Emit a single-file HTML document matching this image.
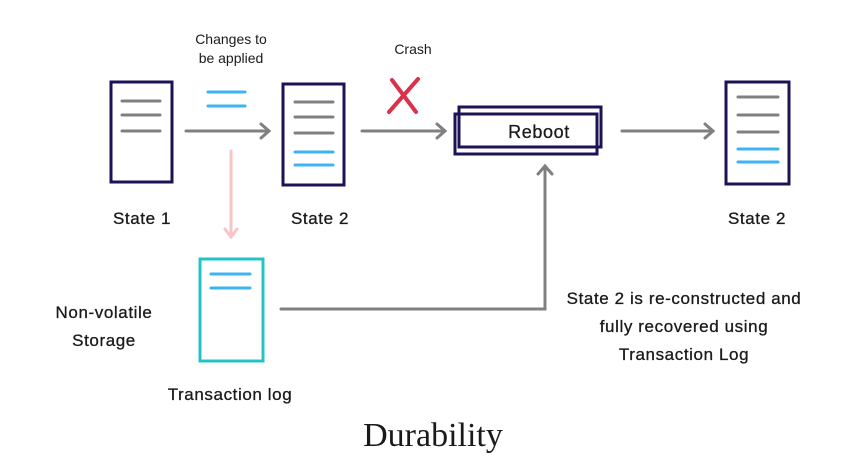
<!DOCTYPE html>
<html><head><style>
body{margin:0;background:#fff;width:864px;height:460px;overflow:hidden}
svg text{font-family:"Liberation Sans",sans-serif;fill:#1a1a1a}
.l{font-size:17px;letter-spacing:0.6px;stroke:#1a1a1a;stroke-width:0.3px}
</style></head><body>
<svg width="864" height="460" viewBox="0 0 864 460" xmlns="http://www.w3.org/2000/svg">
<g fill="none" stroke-linecap="round">
<rect x="111" y="82" width="61" height="100" stroke="#1e1155" stroke-width="3"/>
<g stroke="#808080" stroke-width="3"><line x1="122" y1="101" x2="160" y2="101"/><line x1="122" y1="115" x2="160" y2="115"/><line x1="122" y1="131" x2="160" y2="131"/></g>
<g stroke="#3db4f2" stroke-width="3"><line x1="208" y1="92" x2="245" y2="92"/><line x1="208" y1="106" x2="245" y2="106"/></g>
<g stroke="#808080" stroke-width="3"><line x1="186" y1="131" x2="269" y2="131"/><polyline points="261,124 269,131 261,138"/></g>
<rect x="283" y="84" width="61" height="101" stroke="#1e1155" stroke-width="3"/>
<g stroke="#808080" stroke-width="3"><line x1="295" y1="102" x2="333" y2="102"/><line x1="295" y1="117" x2="333" y2="117"/><line x1="295" y1="133" x2="333" y2="133"/></g>
<g stroke="#3db4f2" stroke-width="3"><line x1="295" y1="152" x2="333" y2="152"/><line x1="295" y1="165" x2="333" y2="165"/></g>
<g stroke="#d8334a" stroke-width="4"><line x1="389" y1="112" x2="418" y2="79"/><line x1="392" y1="80" x2="416" y2="112"/></g>
<g stroke="#808080" stroke-width="3"><line x1="362" y1="131" x2="445" y2="131"/><polyline points="437,124 445,131 437,138"/></g>
<rect x="459" y="107" width="142" height="40" stroke="#1e1155" stroke-width="3" fill="#fff"/>
<rect x="455" y="114" width="142" height="40" stroke="#1e1155" stroke-width="3"/>
<g stroke="#808080" stroke-width="3"><line x1="622" y1="131" x2="713" y2="131"/><polyline points="705,124 713,131 705,138"/></g>
<rect x="726" y="82" width="63" height="102" stroke="#1e1155" stroke-width="3"/>
<g stroke="#808080" stroke-width="3"><line x1="738" y1="97" x2="778" y2="97"/><line x1="738" y1="115" x2="778" y2="115"/><line x1="738" y1="132" x2="778" y2="132"/></g>
<g stroke="#3db4f2" stroke-width="3"><line x1="738" y1="149" x2="778" y2="149"/><line x1="738" y1="162" x2="778" y2="162"/></g>
<g stroke="#fbc4c4" stroke-width="3"><line x1="231" y1="151" x2="231" y2="237"/><polyline points="225,229 231,237 237,229"/></g>
<rect x="200" y="259" width="63" height="102" stroke="#22c4c8" stroke-width="3"/>
<g stroke="#3db4f2" stroke-width="3"><line x1="211" y1="274" x2="250" y2="274"/><line x1="211" y1="288" x2="250" y2="288"/></g>
<g stroke="#808080" stroke-width="3"><polyline points="281,309 545,309 545,166"/><polyline points="538,174 545,166 552,174"/></g>
</g>
<text x="539" y="138" class="l" style="font-size:18px" text-anchor="middle">Reboot</text>
<text x="231" y="44" font-size="14" text-anchor="middle">Changes to</text>
<text x="231" y="63" font-size="14" text-anchor="middle">be applied</text>
<text x="413" y="54" font-size="14" text-anchor="middle">Crash</text>
<text x="142" y="224" class="l" text-anchor="middle">State 1</text>
<text x="320" y="224" class="l" text-anchor="middle">State 2</text>
<text x="757" y="224" class="l" text-anchor="middle">State 2</text>
<text x="104" y="318" class="l" text-anchor="middle">Non-volatile</text>
<text x="104" y="346" class="l" text-anchor="middle">Storage</text>
<text x="230" y="400" class="l" text-anchor="middle">Transaction log</text>
<text x="684" y="304" class="l" text-anchor="middle">State 2 is re-constructed and</text>
<text x="684" y="332" class="l" text-anchor="middle">fully recovered using</text>
<text x="684" y="360" class="l" text-anchor="middle">Transaction Log</text>
<text x="433" y="446" font-size="34" text-anchor="middle" style="font-family:'Liberation Serif',serif">Durability</text>
</svg>
</body></html>
